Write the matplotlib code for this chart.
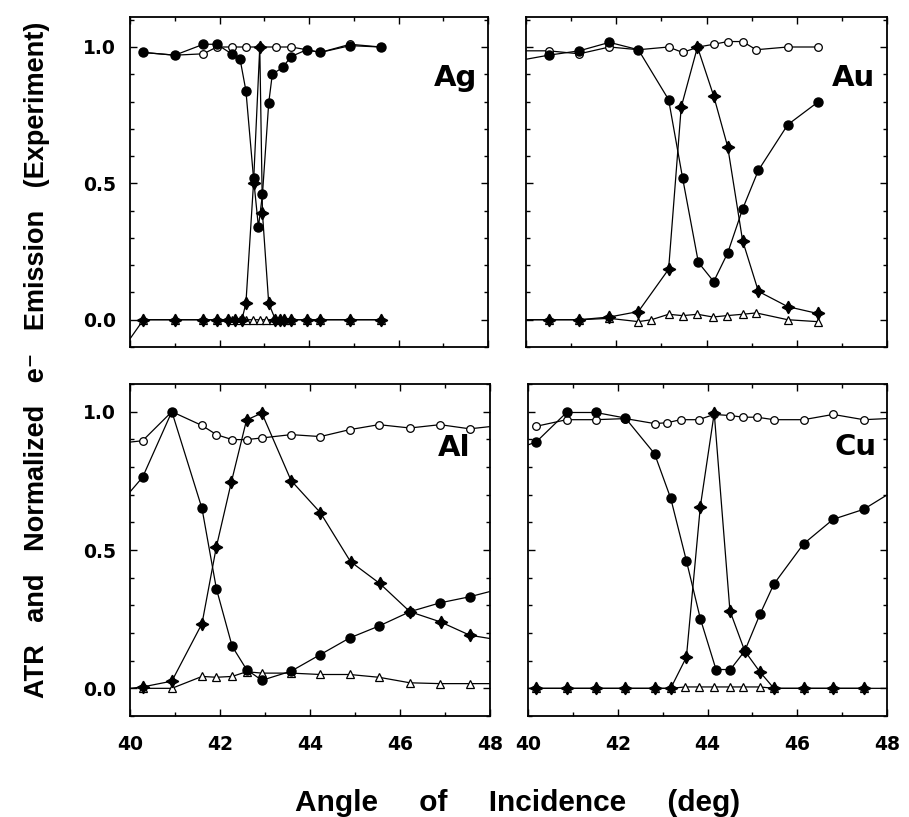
import numpy as np
import matplotlib
matplotlib.use("Agg")
import matplotlib.pyplot as plt
from matplotlib.ticker import MultipleLocator

# Ag
ag_fill_x = [40.3, 41.0, 41.64, 41.94, 42.27, 42.46, 42.59, 42.76, 42.87, 42.96, 43.1, 43.18, 43.41, 43.6, 43.95, 44.25, 44.92, 45.6]
ag_fill_y = [0.98, 0.97, 1.01, 1.01, 0.975, 0.955, 0.84, 0.52, 0.34, 0.46, 0.795, 0.90, 0.925, 0.965, 0.99, 0.98, 1.005, 1.0]
ag_open_x = [40.3, 41.0, 41.64, 41.94, 42.27, 42.59, 42.9, 43.27, 43.6, 43.95, 44.25, 44.92, 45.6]
ag_open_y = [0.98, 0.97, 0.975, 1.0, 1.0, 1.0, 1.0, 1.0, 1.0, 0.99, 0.98, 1.01, 1.0]
ag_star_x = [40.3, 41.0, 41.64, 41.94, 42.2, 42.35, 42.5, 42.59, 42.76, 42.9, 42.96, 43.1, 43.25, 43.35, 43.45, 43.6, 43.95, 44.25, 44.92, 45.6]
ag_star_y = [0, 0, 0, 0, 0, 0, 0, 0.06, 0.5, 1.0, 0.39, 0.06, 0, 0, 0, 0, 0, 0, 0, 0]
ag_tri_x = [40.0, 40.3, 41.0, 41.64, 41.94, 42.27, 42.45, 42.6, 42.75, 42.9, 43.05, 43.2, 43.35, 43.45, 43.6, 43.95, 44.25, 44.92, 45.6]
ag_tri_y = [-0.07, 0, 0, 0, 0, 0, 0, 0, 0, 0, 0, 0, 0, 0, 0, 0, 0, 0, 0]

# Au
au_fill_x = [40.0, 40.5, 41.18, 41.85, 42.49, 43.16, 43.47, 43.82, 44.16, 44.47, 44.8, 45.15, 45.8, 46.46]
au_fill_y = [0.955, 0.97, 0.986, 1.017, 0.99, 0.807, 0.52, 0.21, 0.14, 0.245, 0.406, 0.548, 0.715, 0.797]
au_open_x = [40.0, 40.5, 41.18, 41.85, 42.49, 43.16, 43.47, 43.82, 44.16, 44.47, 44.8, 45.1, 45.8, 46.46]
au_open_y = [0.986, 0.986, 0.975, 1.0, 0.99, 1.0, 0.98, 1.0, 1.01, 1.02, 1.02, 0.99, 1.0, 1.0]
au_star_x = [40.0, 40.5, 41.18, 41.85, 42.49, 43.16, 43.44, 43.8, 44.16, 44.47, 44.8, 45.15, 45.8, 46.46]
au_star_y = [0.0, 0.0, 0.0, 0.01, 0.03, 0.185, 0.78, 1.0, 0.82, 0.634, 0.29, 0.104, 0.048, 0.023]
au_tri_x = [40.0, 40.5, 41.18, 41.85, 42.49, 42.78, 43.16, 43.47, 43.8, 44.14, 44.45, 44.8, 45.1, 45.8, 46.46]
au_tri_y = [0.0, 0.0, 0.0, 0.005, -0.007, 0.0, 0.02, 0.015, 0.02, 0.01, 0.015, 0.02, 0.025, 0.0, -0.007]

# Al
al_fill_x = [40.0, 40.28, 40.93, 41.6, 41.92, 42.27, 42.59, 42.93, 43.58, 44.23, 44.88, 45.53, 46.22, 46.89, 47.55, 48.0]
al_fill_y = [0.71, 0.763, 1.0, 0.65, 0.36, 0.152, 0.068, 0.029, 0.062, 0.122, 0.182, 0.225, 0.277, 0.309, 0.331, 0.35]
al_open_x = [40.0, 40.28, 40.93, 41.6, 41.92, 42.27, 42.59, 42.93, 43.58, 44.23, 44.88, 45.53, 46.22, 46.89, 47.55, 48.0]
al_open_y = [0.89, 0.895, 1.0, 0.95, 0.917, 0.899, 0.899, 0.905, 0.917, 0.91, 0.935, 0.953, 0.941, 0.953, 0.938, 0.946]
al_star_x = [40.0, 40.28, 40.93, 41.6, 41.92, 42.25, 42.59, 42.93, 43.58, 44.23, 44.9, 45.55, 46.22, 46.9, 47.55, 48.0]
al_star_y = [0.0, 0.005, 0.026, 0.234, 0.512, 0.744, 0.97, 0.995, 0.751, 0.635, 0.458, 0.379, 0.277, 0.24, 0.192, 0.18]
al_tri_x = [40.28, 40.93, 41.6, 41.92, 42.27, 42.59, 42.93, 43.58, 44.23, 44.88, 45.53, 46.22, 46.89, 47.55, 48.0]
al_tri_y = [0.0, 0.0, 0.043, 0.04, 0.043, 0.06, 0.055, 0.055, 0.05, 0.05, 0.04, 0.02, 0.017, 0.017, 0.017]

# Cu
cu_fill_x = [40.0, 40.18, 40.86, 41.51, 42.17, 42.82, 43.18, 43.53, 43.84, 44.19, 44.51, 44.83, 45.17, 45.48, 46.14, 46.8, 47.48, 48.0]
cu_fill_y = [0.88, 0.89, 0.997, 0.997, 0.977, 0.848, 0.687, 0.461, 0.252, 0.068, 0.068, 0.135, 0.268, 0.377, 0.522, 0.611, 0.647, 0.699]
cu_open_x = [40.18, 40.86, 41.51, 42.17, 42.82, 43.1, 43.4, 43.8, 44.15, 44.5, 44.8, 45.1, 45.48, 46.14, 46.8, 47.48, 48.0]
cu_open_y = [0.947, 0.971, 0.971, 0.975, 0.957, 0.96, 0.971, 0.971, 0.99, 0.986, 0.98, 0.98, 0.971, 0.971, 0.99, 0.971, 0.975]
cu_star_x = [40.0, 40.18, 40.86, 41.51, 42.17, 42.82, 43.18, 43.53, 43.84, 44.15, 44.5, 44.83, 45.17, 45.48, 46.14, 46.8, 47.48, 48.0]
cu_star_y = [0.0, 0.0, 0.0, 0.0, 0.0, 0.0, 0.0, 0.113, 0.657, 0.995, 0.28, 0.135, 0.059, 0.0, 0.0, 0.0, 0.0, 0.0]
cu_tri_x = [40.18, 40.86, 41.51, 42.17, 42.82, 43.18, 43.5, 43.8, 44.15, 44.5, 44.8, 45.17, 45.48, 46.14, 46.8, 47.48]
cu_tri_y = [0.0, 0.0, 0.0, 0.0, 0.0, 0.0, 0.005, 0.005, 0.005, 0.005, 0.005, 0.005, 0.0, 0.0, 0.0, 0.0]

panels = [
    ("Ag", ag_fill_x, ag_fill_y, ag_open_x, ag_open_y, ag_star_x, ag_star_y, ag_tri_x, ag_tri_y),
    ("Au", au_fill_x, au_fill_y, au_open_x, au_open_y, au_star_x, au_star_y, au_tri_x, au_tri_y),
    ("Al", al_fill_x, al_fill_y, al_open_x, al_open_y, al_star_x, al_star_y, al_tri_x, al_tri_y),
    ("Cu", cu_fill_x, cu_fill_y, cu_open_x, cu_open_y, cu_star_x, cu_star_y, cu_tri_x, cu_tri_y),
]

# axes boxes in figure fractions (left, bottom, width, height)
W, H = 909, 817
boxes = [
    (130 / W, 1 - 347 / H, 358 / W, 330 / H),
    (526 / W, 1 - 347 / H, 361 / W, 330 / H),
    (130 / W, 1 - 716 / H, 360 / W, 332 / H),
    (528 / W, 1 - 716 / H, 359 / W, 332 / H),
]
label_pos = [(477, 78), (875, 78), (470, 448), (877, 447)]

tickfont = dict(family="DejaVu Sans", weight="bold", size=13.5)
labfam = ["Liberation Sans Narrow", "Liberation Sans", "DejaVu Sans"]

fig = plt.figure(figsize=(9.09, 8.17), dpi=100)


def inner(x):
    x = np.asarray(x)
    return list((x > 40.05) & (x < 47.95))


for i, (name, fx, fy, ox, oy, sx, sy, tx, ty) in enumerate(panels):
    ax = fig.add_axes(boxes[i])
    kw = dict(color="black", lw=0.9)
    ax.plot(ox, oy, marker="o", ms=5.5, mfc="white", mec="black", mew=0.9,
            markevery=inner(ox), **kw)
    ax.plot(tx, ty, marker="^", ms=5.5, mfc="white", mec="black", mew=0.9,
            markevery=inner(tx), **kw)
    ax.plot(sx, sy, marker=(4, 1, 0), ms=9, mfc="black", mec="black",
            markevery=inner(sx), **kw)
    ax.plot(fx, fy, marker="o", ms=6.5, mfc="black", mec="black",
            markevery=inner(fx), **kw)

    ax.set_xlim(40, 48)
    ax.set_ylim(-0.1, 1.11 if i < 2 else 1.1)
    ax.xaxis.set_major_locator(MultipleLocator(2))
    ax.xaxis.set_minor_locator(MultipleLocator(1))
    ax.yaxis.set_major_locator(MultipleLocator(0.5))
    ax.yaxis.set_minor_locator(MultipleLocator(0.1))
    ax.tick_params(which="both", direction="in", top=True, right=True, width=1)
    ax.tick_params(which="major", length=5)
    ax.tick_params(which="minor", length=3)
    for sp in ax.spines.values():
        sp.set_linewidth(1.3)

    if i % 2 == 0:
        ax.set_yticks([0.0, 0.5, 1.0])
        ax.set_yticklabels(["0.0", "0.5", "1.0"], fontdict=tickfont)
    else:
        ax.set_yticklabels([])
    if i >= 2:
        ax.set_xticks([40, 42, 44, 46, 48])
        ax.set_xticklabels(["40", "42", "44", "46", "48"], fontdict=tickfont)
        ax.tick_params(axis="x", pad=14)
    else:
        ax.set_xticklabels([])
    ax.tick_params(axis="y", pad=10)

    lx, ly = label_pos[i]
    fig.text(lx / W, 1 - ly / H, name, ha="right", va="center",
             fontsize=21, fontweight="bold", family="DejaVu Sans")

fig.text(518 / W, 1 - 803 / H, "Angle     of     Incidence     (deg)", ha="center", va="center",
         fontsize=21.5, fontweight="bold", family=labfam)
fig.text(37 / W, 1 - 360 / H, "ATR   and   Normalized   e\u207b   Emission   (Experiment)",
         rotation=90, ha="center", va="center",
         fontsize=19.5, fontweight="bold", family=labfam)

fig.savefig("out.png", dpi=100)
